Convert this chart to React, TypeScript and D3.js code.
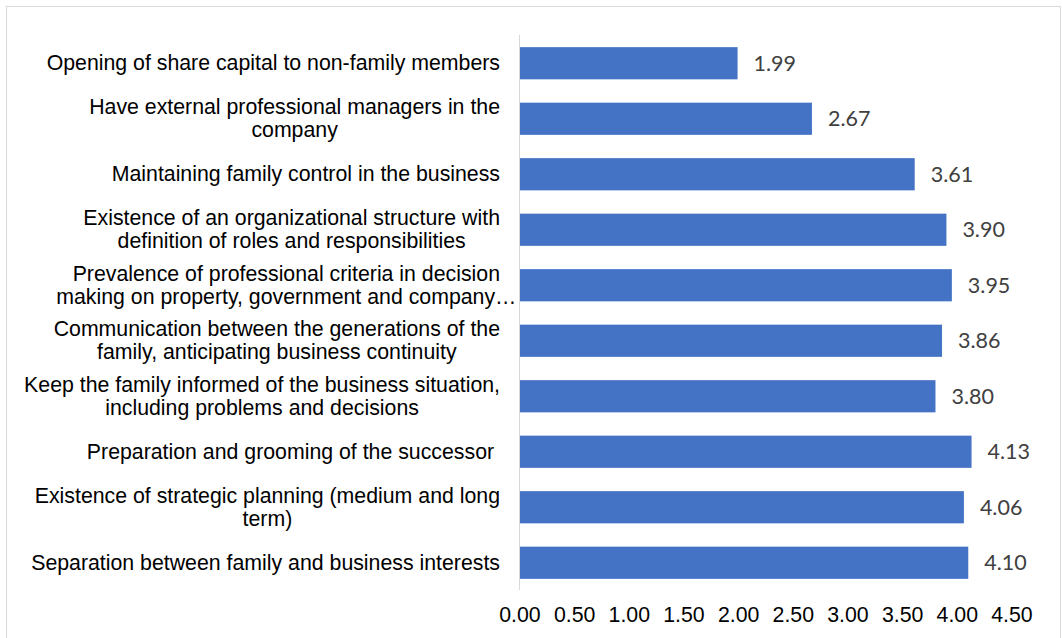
import React, { useEffect, useRef } from 'react'
import * as d3 from 'd3'

// category labels, already wrapped the way the source chart wraps them
const categoryLines: string[][] = [
  ['Opening of share capital to non-family members'],
  ['Have external professional managers in the', 'company'],
  ['Maintaining family control in the business'],
  ['Existence of an organizational structure with', 'definition of roles and responsibilities'],
  ['Prevalence of professional criteria in decision', 'making on property, government and company…'],
  ['Communication between the generations of the', 'family, anticipating business continuity'],
  ['Keep the family informed of the business situation,', 'including problems and decisions'],
  ['Preparation and grooming of the successor '],
  ['Existence of strategic planning (medium and long', 'term)'],
  ['Separation between family and business interests'],
]

const values: number[] = [1.99, 2.67, 3.61, 3.9, 3.95, 3.86, 3.8, 4.13, 4.06, 4.1]

const tickValues: number[] = [0, 0.5, 1, 1.5, 2, 2.5, 3, 3.5, 4, 4.5]

const W = 1062
const H = 638

const App = () => {
  const svgRef = useRef<SVGSVGElement>(null)

  useEffect(() => {
    const svg = d3.select(svgRef.current)
    svg.selectAll('*').remove()

    const x = d3.scaleLinear().domain([0, 4.5]).range([520, 1012])
    const y = d3
      .scaleBand<number>()
      .domain(d3.range(values.length))
      .range([35.5, 590.5])
      .paddingInner(0.42)
      .paddingOuter(0.21)

    // chart frame
    svg
      .append('rect')
      .attr('x', 6.5)
      .attr('y', 6.5)
      .attr('width', 1054)
      .attr('height', H + 10)
      .attr('fill', '#fff')
      .attr('stroke', '#d9d9d9')

    // bars
    svg
      .append('g')
      .selectAll('rect')
      .data(values)
      .join('rect')
      .attr('x', x(0))
      .attr('y', (d, i) => y(i)!)
      .attr('width', (d) => x(d) - x(0))
      .attr('height', y.bandwidth())
      .attr('fill', '#4472c4')

    // vertical category axis line
    svg
      .append('line')
      .attr('x1', x(0) - 0.5)
      .attr('x2', x(0) - 0.5)
      .attr('y1', 35)
      .attr('y2', 590)
      .attr('stroke', '#d9d9d9')
      .attr('stroke-width', 1)

    // data labels
    svg
      .append('g')
      .attr('font-family', 'Lato, "Open Sans", sans-serif')
      .attr('font-size', 21.5)
      .attr('fill', '#404040')
      .selectAll('text')
      .data(values)
      .join('text')
      .attr('x', (d) => x(d) + 16)
      .attr('y', (d, i) => y(i)! + y.bandwidth() / 2 + 7.5)
      .text((d) => d.toFixed(2))

    // x tick labels
    svg
      .append('g')
      .attr('font-family', '"Liberation Sans", Arial, sans-serif')
      .attr('font-size', 21.3)
      .attr('fill', '#000')
      .attr('text-anchor', 'middle')
      .selectAll('text')
      .data(tickValues)
      .join('text')
      .attr('x', (d) => x(d))
      .attr('y', 622)
      .text((d) => d.toFixed(2))

    // category labels: centred lines, block right-aligned next to the axis
    const labelG = svg
      .append('g')
      .attr('font-family', '"Liberation Sans", Arial, sans-serif')
      .attr('font-size', 21.3)
      .attr('fill', '#000')
    const lineH = 23.3
    categoryLines.forEach((lines, i) => {
      const cy = y(i)! + y.bandwidth() / 2
      const t = labelG.append('text').attr('text-anchor', 'middle').style('white-space', 'pre')
      lines.forEach((ln) => t.append('tspan').text(ln))
      const spans = t.selectAll<SVGTSpanElement, unknown>('tspan')
      // a truncated line (ending in …) spills past the wrap width, so it does not set the block width
      const widths = spans
        .nodes()
        .map((n, j) => (lines[j].endsWith('…') ? 0 : n.getComputedTextLength()))
      const cx = 500 - (d3.max(widths) || 0) / 2
      spans
        .attr('x', cx)
        .attr('y', (d, j) => cy + 7 + (j - (lines.length - 1) / 2) * lineH)
    })
  }, [])

  return (
    <svg
      ref={svgRef}
      width={W}
      height={H}
      style={{ position: 'absolute', left: 0, top: 0, background: '#fff' }}
    ></svg>
  )
}

export default App
